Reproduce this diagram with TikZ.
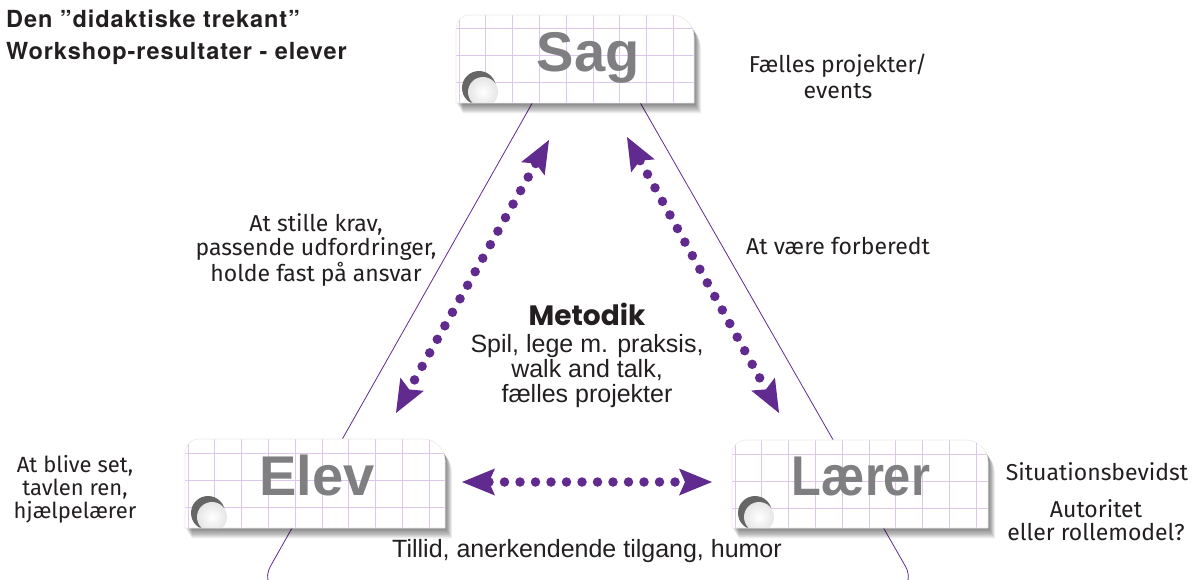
\documentclass[tikz,border=0pt]{standalone}
\usepackage{fontspec}
\setmainfont{Fira Sans}
\newfontfamily\helv[LetterSpace=4]{TeX Gyre Heros}
\newfontfamily\arial{Liberation Sans}
\newfontfamily\popp{Poppins}
\usetikzlibrary{arrows.meta}
\definecolor{vio}{RGB}{97,42,143}
\definecolor{gridc}{RGB}{220,198,234}
\definecolor{cardgray}{RGB}{127,127,130}
\definecolor{ink}{RGB}{35,31,32}
\newcommand\mycardpath[2]{(0,#2) -- (0,14) .. controls (0,6) and (6,0) .. (14,0) -- (#1-22,0) .. controls (#1-10,0) and (#1,10) .. (#1,22) -- (#1,#2) -- cycle}
\newcommand\mycard[4]{%
 \begin{scope}[shift={(#1,#2)}]
  \foreach \k in {1,...,9} \fill[black, opacity=0.065, shift={(\k*0.75,\k*1.15)}] \mycardpath{#3}{#4};
  \fill[white] \mycardpath{#3}{#4};
  \begin{scope}
   \clip \mycardpath{#3}{#4};
   \foreach \i in {0,...,9} \draw[gridc, line width=1pt] (3+\i*26.8,0) -- (3+\i*26.8,#4);
   \foreach \j in {0,...,3} \draw[gridc, line width=1pt] (0,14+\j*27) -- (#3,14+\j*27);
   \fill[black!60] (23,#4-15) circle[radius=17pt];
   \shade[inner color=white, outer color=black!10] (27,#4-11) circle[radius=15pt];
  \end{scope}
  \draw[black!8, line width=0.6pt] \mycardpath{#3}{#4};
 \end{scope}}
\tikzset{
  cardlbl/.style={font=\arial\bfseries\fontsize{56}{56}\selectfont, text=cardgray, inner sep=0pt, anchor=base},
  lbl/.style={font=\fontsize{23}{24}\selectfont, text=ink, align=center, inner sep=0pt},
  hlbl/.style={font=\arial\fontsize{25}{25}\selectfont, text=ink, align=center, inner sep=0pt},
  ttl/.style={font=\helv\bfseries\fontsize{23.5}{23.5}\selectfont, text=ink, anchor=base west, inner sep=0pt},
  tri/.style={vio, line width=0.8pt, rounded corners=28pt},
  dotarrow/.style={vio, line width=9.5pt, line cap=round, dash pattern=on 0pt off 15.5pt, {Stealth[length=33pt,width=27pt,inset=6pt,line width=0pt]}-{Stealth[length=33pt,width=27pt,inset=6pt,line width=0pt]}}
}
\begin{document}
\begin{tikzpicture}[x=1pt,y=-1pt]
\useasboundingbox (0,0) rectangle (1193,580);
\clip (0,0) rectangle (1193,580);
% triangle behind the cards
\coordinate (apex) at (586,8);
\coordinate (bl) at (257,590);
\coordinate (br) at (919,590);
\draw[tri] (apex) -- (bl) -- (br) -- cycle;
% cards
\mycard{456}{15}{238}{88}
\mycard{185}{439}{260}{89}
\mycard{732}{440}{256}{88}
\node[cardlbl] (sag) at (588,72) {Sag};
\node[cardlbl] (elev) at (317,495) {Elev};
\node[cardlbl] (laerer) at (861,495) {\scalebox{0.87}[1]{Lærer}};
% arrows
\coordinate (a1) at (549,140);
\coordinate (a2) at (396,413);
\coordinate (b1) at (627,137);
\coordinate (b2) at (779,413);
\coordinate (c1) at (462,482);
\coordinate (c2) at (712,482);
\draw[dotarrow] (a1) -- (a2);
\draw[dotarrow] (b1) -- (b2);
\draw[dotarrow] (c1) -- (c2);
% title
\node[ttl] (t1) at (6,28) {Den ”didaktiske trekant”};
\node[ttl] (t2) at (6,60) {Workshop-resultater - elever};
% labels
\node[lbl, font=\fontsize{23}{26}\selectfont] (fp) at (838,76) {Fælles projekter/\\events};
\node[lbl] (krav) at (316,250) {At stille krav,\\passende udfordringer,\\holde fast på ansvar};
\node[lbl, anchor=base] (forb) at (838,254) {At være forberedt};
\node[font=\popp\bfseries\fontsize{28}{28}\selectfont, text=ink, inner sep=0pt, anchor=base] (met) at (587,325) {Metodik};
\node[hlbl] (spil) at (587,371.5) {Spil, lege m. praksis,\\walk and talk,\\fælles projekter};
\node[hlbl, anchor=base] (till) at (587,557) {Tillid, anerkendende tilgang, humor};
\node[lbl, font=\fontsize{22}{23}\selectfont] (blive) at (75,489.5) {At blive set,\\tavlen ren,\\hjælpelærer};
\node[lbl, anchor=base] (sit) at (1097,480) {Situationsbevidst};
\node[lbl, font=\fontsize{23}{23}\selectfont] (aut) at (1096,520.5) {Autoritet\\eller rollemodel?};
\end{tikzpicture}
\end{document}
